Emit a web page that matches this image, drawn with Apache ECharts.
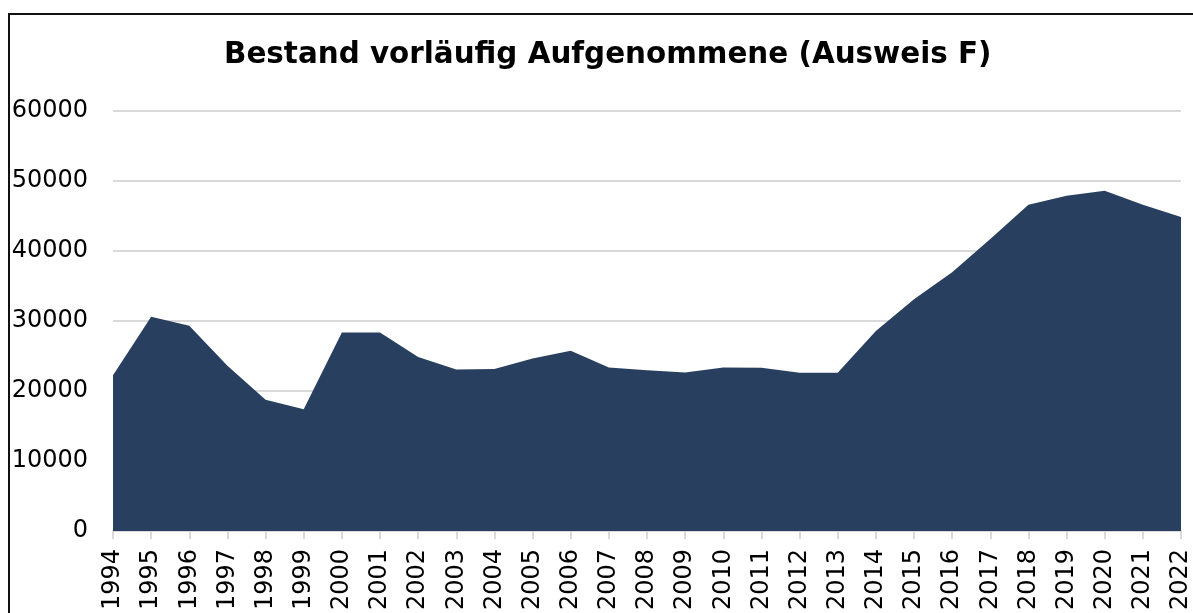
<!DOCTYPE html>
<html>
<head>
<meta charset="utf-8">
<script src="https://cdn.jsdelivr.net/npm/echarts@6/dist/echarts.min.js"></script>
<style>
  html, body { margin: 0; padding: 0; background: #fff; overflow: hidden; }
  #chart { width: 1193px; height: 613px; }
</style>
</head>
<body>
<div id="chart"></div>
<script>
// Jahre (Kategorien)
const years = ['1994', '1995', '1996', '1997', '1998', '1999', '2000', '2001', '2002', '2003',
  '2004', '2005', '2006', '2007', '2008', '2009', '2010', '2011', '2012', '2013',
  '2014', '2015', '2016', '2017', '2018', '2019', '2020', '2021', '2022'];

// Bestand vorläufig Aufgenommene
const bestand = [22250, 30600, 29300, 23600, 18750, 17400, 28350, 28350, 24850, 23050,
  23150, 24650, 25750, 23350, 22950, 22650, 23350, 23300, 22600, 22600,
  28550, 33100, 36950, 41700, 46600, 47900, 48600, 46600, 44850];

const yTicks = { min: 0, max: 60000, interval: 10000 };

const chart = echarts.init(document.getElementById('chart'));

const option = {
  backgroundColor: '#fff',
  animation: false,
  title: {
    text: 'Bestand vorläufig Aufgenommene (Ausweis F)',
    left: 224,
    top: 41,
    padding: 0,
    textStyle: {
      fontFamily: 'DejaVu Sans',
      fontWeight: 'bold',
      fontSize: 29.4,
      color: '#000'
    }
  },
  graphic: [{
    // Rahmen links
    type: 'line',
    shape: { x1: 9, y1: 13, x2: 9, y2: 620 },
    style: { stroke: '#111', lineWidth: 2 },
    silent: true
  }, {
    // Rahmen oben
    type: 'line',
    shape: { x1: 8, y1: 14, x2: 1200, y2: 14 },
    style: { stroke: '#111', lineWidth: 2 },
    silent: true
  }],
  grid: {
    left: 113,
    right: 7,
    top: 111,
    bottom: 81,
    containLabel: false
  },
  xAxis: {
    type: 'category',
    data: years,
    boundaryGap: false,
    axisLine: { show: true, lineStyle: { color: '#d9d9d9', width: 2 } },
    axisTick: { show: true, length: 8, lineStyle: { color: '#d9d9d9', width: 2 } },
    axisLabel: {
      interval: 0,
      rotate: 90,
      margin: 18,
      fontFamily: 'DejaVu Sans',
      fontSize: 24,
      color: '#000'
    },
    splitLine: { show: false }
  },
  yAxis: {
    type: 'value',
    min: yTicks.min,
    max: yTicks.max,
    interval: yTicks.interval,
    axisLine: { show: false },
    axisTick: { show: false },
    axisLabel: {
      margin: 25,
      fontFamily: 'DejaVu Sans',
      fontSize: 24,
      color: '#000',
      formatter: v => String(v)
    },
    splitLine: { lineStyle: { color: '#d9d9d9', width: 2 } }
  },
  series: [{
    name: 'Bestand',
    type: 'line',
    data: bestand,
    showSymbol: false,
    symbol: 'none',
    lineStyle: { width: 0 },
    areaStyle: { color: '#283f5f', opacity: 1 },
    z: 3
  }]
};

chart.setOption(option);
</script>
</body>
</html>
